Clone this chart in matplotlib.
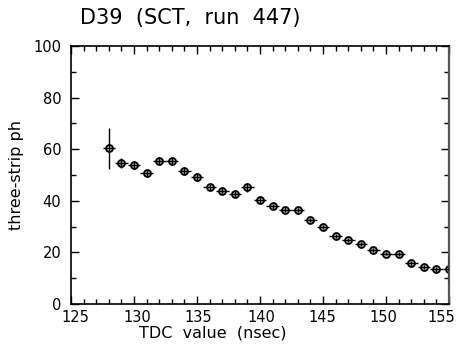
import matplotlib
matplotlib.use("Agg")
import matplotlib.pyplot as plt
from matplotlib.ticker import MultipleLocator
from matplotlib.transforms import ScaledTranslation

tdc = [128, 129, 130, 131, 132, 133, 134, 135, 136, 137, 138, 139, 140, 141,
       142, 143, 144, 145, 146, 147, 148, 149, 150, 151, 152, 153, 154, 155]
ph = [60.3, 54.6, 54.0, 50.7, 55.3, 55.5, 51.7, 49.1, 45.2, 43.9, 42.7, 45.2,
      40.4, 37.8, 36.6, 36.4, 32.4, 29.8, 26.3, 24.9, 23.2, 21.0, 19.5, 19.4,
      15.7, 14.5, 13.4, 13.4]
ph_err = [8.0, 1.8, 1.6, 1.3, 1.6, 1.5, 1.3, 1.3, 1.2, 1.1, 1.1, 1.8,
          1.1, 0.9, 0.9, 0.9, 0.8, 0.8, 0.8, 0.7, 0.7, 0.7, 0.7, 0.8,
          0.8, 0.8, 0.9, 5.0]
bin_half = [0.5] * len(tdc)

plt.rcParams['font.family'] = ['DejaVu Sans']
fig = plt.figure(figsize=(4.58, 3.54), dpi=100)
ax = fig.add_axes([71/458, 1-304/354, (449-71)/458, (304-46)/354])

ax.plot(tdc, ph, 'o', ms=5, mfc='#bbbbbb', mec='black', mew=1.3, zorder=2)
ax.errorbar(tdc, ph, yerr=ph_err, xerr=bin_half, fmt='none',
            ecolor='black', elinewidth=1.0, capsize=0, zorder=3)

ax.set_xlim(125, 155)
ax.set_ylim(0, 100)
ax.set_xticks([125, 130, 135, 140, 145, 150, 155])
ax.xaxis.set_minor_locator(MultipleLocator(1))
ax.set_yticks([0, 20, 40, 60, 80, 100])
ax.yaxis.set_minor_locator(MultipleLocator(10))
ax.tick_params(which='both', direction='in', top=True, right=True,
               labelsize=10.5, width=1.0, colors='black')
ax.tick_params(axis='x', pad=4)
ax.tick_params(axis='y', pad=7)
ax.tick_params(which='major', length=6)
ax.tick_params(which='minor', length=3.5)
for s in ax.spines.values():
    s.set_linewidth(1.2)
    s.set_color('black')
ax.spines['right'].set_color('#555555')
ax.spines['right'].set_linewidth(1.6)

# nudge x tick labels to match the reference's label placement
shifts_px = {125: 4.5, 130: 3.5, 135: 1.0, 140: 1.0, 145: -1.0, 150: -3.0, 155: -8.0}
for loc, tick in zip(ax.get_xticks(), ax.xaxis.get_major_ticks()):
    dx = shifts_px.get(int(round(loc)), 0.0)
    lab = tick.label1
    lab.set_transform(lab.get_transform() + ScaledTranslation(dx / 100, 0, fig.dpi_scale_trans))

ax.set_ylabel('three-strip ph', fontsize=11.5, labelpad=7)
fig.text(213/458, 1-333/354, 'TDC  value  (nsec)', fontsize=11.5, va='center', ha='center')
fig.text(80/458, 1-18/354, 'D39  (SCT,  run  447)', fontsize=15, va='center', ha='left')

fig.savefig('out.png', dpi=100)
